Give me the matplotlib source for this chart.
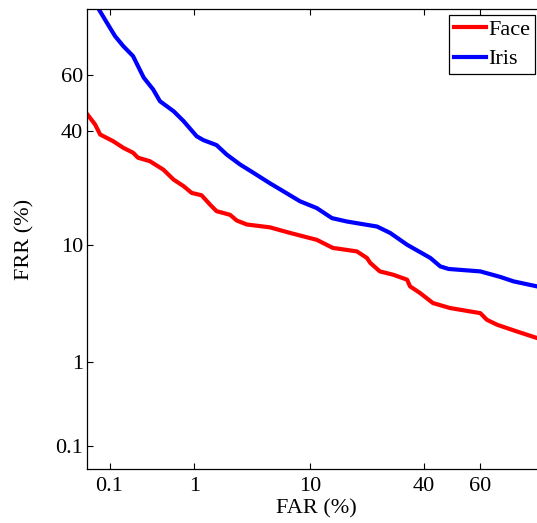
import math
import numpy as np
import matplotlib
matplotlib.use("Agg")
import matplotlib.pyplot as plt

# DET curve values (percent)
iris_far = [0.072, 0.092, 0.118, 0.151, 0.20, 0.27, 0.35, 0.42, 0.60, 0.77, 1.06,
            1.24, 1.68, 2.1, 2.78, 3.64, 5.0, 6.06, 8.5, 11.1, 13.9, 17.1, 24.9,
            28.8, 34.2, 42.2, 45.7, 48.7, 60.0, 66.8, 71.0, 77.8, 80.0]
iris_frr = [80.0, 76.5, 72.6, 69.5, 66.3, 59.0, 54.8, 50.6, 47.0, 43.5, 38.2,
            36.9, 35.2, 32.1, 29.0, 26.5, 23.5, 21.8, 18.8, 17.2, 15.0, 14.3, 13.3,
            12.1, 10.1, 8.15, 7.07, 6.76, 6.48, 5.87, 5.42, 4.94, 4.8]

face_far = [0.05, 0.064, 0.075, 0.112, 0.151, 0.20, 0.23, 0.32, 0.46, 0.60, 0.77,
            0.94, 1.19, 1.45, 1.68, 2.26, 2.6, 3.2, 5.0, 7.2, 11.1, 14.1, 19.5,
            22.1, 23.0, 25.7, 29.7, 34.2, 35.2, 38.6, 43.1, 49.2, 60.0, 62.3, 65.7,
            72.0, 77.8, 80.0]
face_frr = [45.9, 42.3, 38.8, 36.5, 34.3, 32.7, 31.1, 30.0, 27.4, 24.5, 22.7,
            20.9, 20.3, 18.0, 16.5, 15.7, 14.5, 13.7, 13.15, 12.1, 10.9, 9.6, 9.08,
            8.15, 7.5, 6.48, 6.11, 5.59, 4.94, 4.36, 3.59, 3.25, 2.93, 2.55, 2.30,
            1.99, 1.72, 1.65]

ticks = [0.1, 1, 10, 40, 60]
tick_labels = ['0.1', '1', '10', '40', '60']

_erf = np.vectorize(math.erf, otypes=[float])


def norm_cdf(z):
    return 0.5 * (1.0 + _erf(np.asarray(z, dtype=float) / math.sqrt(2.0)))


def norm_ppf(p):
    p = np.clip(np.asarray(p, dtype=float), 1e-12, 1 - 1e-12)
    lo = np.full(p.shape, -10.0)
    hi = np.full(p.shape, 10.0)
    for _ in range(60):
        mid = 0.5 * (lo + hi)
        below = norm_cdf(mid) < p
        lo = np.where(below, mid, lo)
        hi = np.where(below, hi, mid)
    return 0.5 * (lo + hi)


def fwd(pct):
    return norm_ppf(np.asarray(pct, dtype=float) / 100.0)


def inv(z):
    return 100.0 * norm_cdf(z)


plt.rcParams['font.family'] = ['Liberation Serif', 'DejaVu Serif']
fs = 16

fig = plt.figure(figsize=(5.37, 5.23), dpi=100)
ax = fig.add_axes([0.1626, 0.1038, 0.8533, 0.8784])
ax.set_xscale('function', functions=(fwd, inv))
ax.set_yscale('function', functions=(fwd, inv))

ax.plot(face_far, face_frr, color=(1, 0, 0), lw=3, label='Face')
ax.plot(iris_far, iris_frr, color=(0, 0, 1), lw=3, label='Iris')

ax.set_xlim(0.05, 80)
ax.set_ylim(0.05, 80)
ax.set_xticks(ticks)
ax.set_xticklabels(tick_labels)
ax.set_yticks(ticks)
ax.set_yticklabels(tick_labels)
ax.minorticks_off()
ax.tick_params(direction='in', length=4, width=0.8, top=True, right=True,
               labelsize=fs, colors='k')
ax.tick_params(axis='x', pad=6)
ax.tick_params(axis='y', pad=3)
for sp in ax.spines.values():
    sp.set_linewidth(0.9)

ax.set_xlabel('FAR (%)', fontsize=fs, labelpad=2)
ax.set_ylabel('FRR (%)', fontsize=fs, labelpad=15)

leg = ax.legend(loc='upper left', bbox_to_anchor=(0.790, 0.9876), borderaxespad=0,
                fontsize=fs, fancybox=False, edgecolor='k', framealpha=1,
                handlelength=1.45, handletextpad=0.12, borderpad=0.2,
                labelspacing=0.4)
leg.get_frame().set_linewidth(0.9)

fig.savefig('out.png', dpi=100)
